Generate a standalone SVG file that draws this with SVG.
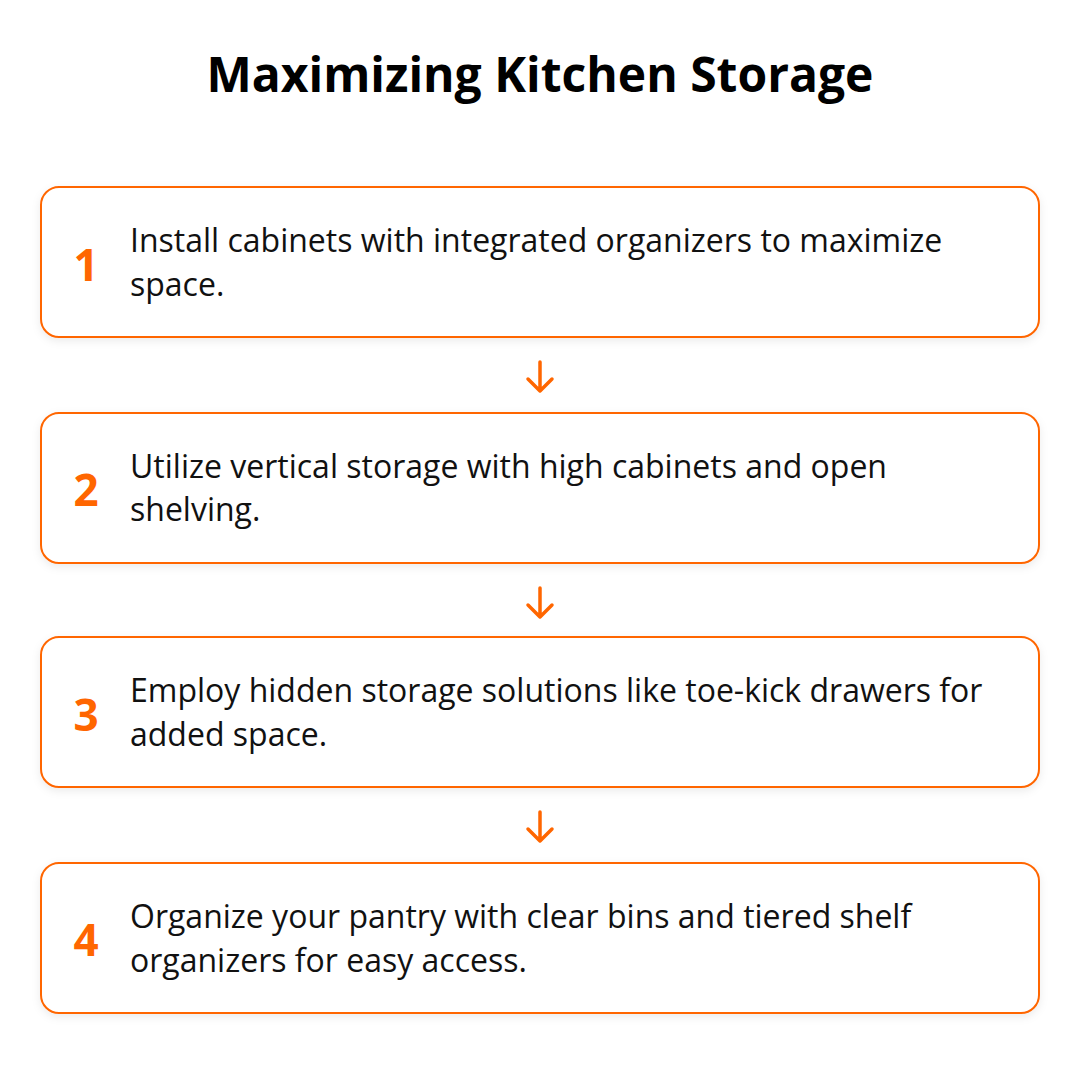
<svg xmlns="http://www.w3.org/2000/svg" width="1080" height="1074" viewBox="0 0 1080 1074">
<defs>
<filter id="sh" x="-5%" y="-10%" width="110%" height="130%">
<feDropShadow dx="0" dy="3" stdDeviation="4" flood-color="#000" flood-opacity="0.08"/>
</filter>
<style>
.box{fill:#fff;stroke:#FF6600;stroke-width:2}
.num{font-family:"Open Sans","Noto Sans",sans-serif;font-weight:700;font-size:44px;fill:#FF6600;text-anchor:middle}
.txt{font-family:"Open Sans","Noto Sans",sans-serif;font-size:32px;fill:#111}
.title{font-family:"Open Sans","Noto Sans",sans-serif;font-weight:700;font-size:48px;fill:#000;text-anchor:middle}
.arr{fill:none;stroke:#FF6600;stroke-width:3.5;stroke-linecap:round;stroke-linejoin:round}
</style>
</defs>
<rect width="1080" height="1074" fill="#fff"/>
<text class="title" x="540" y="92">Maximizing Kitchen Storage</text>
<g id="connectors">
<path class="arr" d="M540 362V391M528 379L540 391L552 379"/>
<path class="arr" d="M540 588V617M528 605L540 617L552 605"/>
<path class="arr" d="M540 812V841M528 829L540 841L552 829"/>
</g>
<g id="step1">
<rect class="box" x="41" y="187" width="998" height="150" rx="18" filter="url(#sh)"/>
<text class="num" x="86" y="281">1</text>
<text class="txt" x="130" y="252">Install cabinets with integrated organizers to maximize</text>
<text class="txt" x="130" y="296">space.</text>
</g>
<g id="step2">
<rect class="box" x="41" y="413" width="998" height="150" rx="18" filter="url(#sh)"/>
<text class="num" x="86" y="506">2</text>
<text class="txt" x="130" y="478">Utilize vertical storage with high cabinets and open</text>
<text class="txt" x="130" y="521">shelving.</text>
</g>
<g id="step3">
<rect class="box" x="41" y="637" width="998" height="150" rx="18" filter="url(#sh)"/>
<text class="num" x="86" y="731">3</text>
<text class="txt" x="130" y="702">Employ hidden storage solutions like toe-kick drawers for</text>
<text class="txt" x="130" y="746">added space.</text>
</g>
<g id="step4">
<rect class="box" x="41" y="863" width="998" height="150" rx="18" filter="url(#sh)"/>
<text class="num" x="86" y="956">4</text>
<text class="txt" x="130" y="928">Organize your pantry with clear bins and tiered shelf</text>
<text class="txt" x="130" y="972">organizers for easy access.</text>
</g>
</svg>
